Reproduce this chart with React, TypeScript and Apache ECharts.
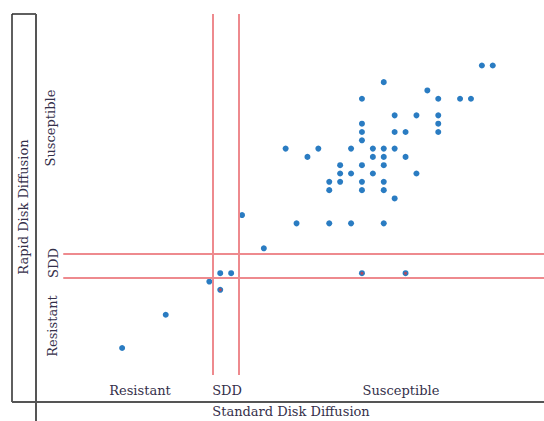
import React, { useEffect, useRef } from "react";
import * as echarts from "echarts";

// Interpretive category labels
const xCategoryLabels = ["Resistant", "SDD", "Susceptible"];
const yCategoryLabels = ["Resistant", "SDD", "Susceptible"];
const xTitle = "Standard Disk Diffusion";
const yTitle = "Rapid Disk Diffusion";

// Isolates: [standard zone (mm), rapid zone (mm)]
const isolates: [number, number][] = [
  [38, 40], [39, 40],
  [29, 38],
  [33, 37],
  [27, 36], [34, 36], [36, 36], [37, 36],
  [30, 34], [32, 34], [34, 34],
  [27, 33], [34, 33],
  [27, 32], [30, 32], [31, 32], [34, 32],
  [27, 31],
  [20, 30], [23, 30], [26, 30], [28, 30], [29, 30], [30, 30],
  [22, 29], [28, 29], [29, 29], [31, 29],
  [25, 28], [27, 28], [29, 28],
  [25, 27], [26, 27], [28, 27], [32, 27],
  [24, 26], [25, 26], [27, 26], [29, 26],
  [24, 25], [27, 25], [29, 25],
  [30, 24],
  [21, 21], [24, 21], [26, 21], [29, 21],
  [16, 22],
  [18, 18],
  [14, 15], [15, 15], [27, 15], [31, 15],
  [13, 14],
  [14, 13],
  [9, 10],
  [5, 6],
];

// Isolates with overlapping results (drawn with a dark centre)
const overlapped: [number, number][] = [
  [14, 13], [27, 15], [31, 15],
];

// Breakpoint lines
const standardBreaks = [13.3, 15.7];
const rapidBreaks = [14.5, 17.3];

const X_MIN = -2.9;
const X_MAX = 43.7;
const Y_MIN = -0.5;
const Y_MAX = 46.2;
const V_LINE_BOTTOM = 2.75;
const H_LINE_LEFT = -0.4;

const FONT = "DejaVu Serif";
const TEXT_COLOR = "#35304a";

export default function App() {
  const ref = useRef<HTMLDivElement>(null);

  useEffect(() => {
    if (!ref.current) return;
    const chart = echarts.init(ref.current, undefined, { renderer: "svg" });

    const markData: any[] = [];
    standardBreaks.forEach((x) => {
      markData.push([{ coord: [x, V_LINE_BOTTOM] }, { coord: [x, Y_MAX] }]);
    });
    rapidBreaks.forEach((y) => {
      markData.push([{ coord: [H_LINE_LEFT, y] }, { coord: [X_MAX, y] }]);
    });

    const textStyle = (text: string) => ({
      text,
      fill: TEXT_COLOR,
      font: `13px "${FONT}"`,
      textAlign: "center",
      textVerticalAlign: "middle",
    });

    chart.setOption({
      animation: false,
      grid: { left: 36, right: 0, top: 14, bottom: 19, containLabel: false },
      xAxis: {
        type: "value",
        min: X_MIN,
        max: X_MAX,
        show: false,
      },
      yAxis: {
        type: "value",
        min: Y_MIN,
        max: Y_MAX,
        show: false,
      },
      series: [
        {
          type: "scatter",
          data: [],
          silent: true,
          z: 1,
          markLine: {
            silent: true,
            symbol: "none",
            label: { show: false },
            lineStyle: { color: "#ee8a8e", width: 2, type: "solid", opacity: 1 },
            data: markData,
          },
        },
        {
          type: "scatter",
          data: isolates,
          symbol: "circle",
          symbolSize: 6,
          itemStyle: { color: "#2a7cc2", opacity: 1 },
          z: 3,
        },
        {
          type: "scatter",
          data: overlapped,
          symbol: "circle",
          symbolSize: 3,
          itemStyle: { color: "#b04a5e", opacity: 1 },
          z: 4,
        },
      ],
      graphic: [
        // frame
        { type: "line", shape: { x1: 12, y1: 14, x2: 12, y2: 402 }, style: { stroke: "#2a2a2a", lineWidth: 1.5 } },
        { type: "line", shape: { x1: 12, y1: 14, x2: 36, y2: 14 }, style: { stroke: "#2a2a2a", lineWidth: 1.5 } },
        { type: "line", shape: { x1: 36, y1: 14, x2: 36, y2: 421 }, style: { stroke: "#555", lineWidth: 2 } },
        { type: "line", shape: { x1: 12, y1: 402, x2: 544, y2: 402 }, style: { stroke: "#555", lineWidth: 2 } },
        // y titles
        { type: "text", x: 23, y: 207, rotation: Math.PI / 2, style: textStyle(yTitle) },
        { type: "text", x: 52, y: 326, rotation: Math.PI / 2, style: textStyle(yCategoryLabels[0]) },
        { type: "text", x: 53, y: 263, rotation: Math.PI / 2, style: textStyle(yCategoryLabels[1]) },
        { type: "text", x: 50, y: 128, rotation: Math.PI / 2, style: textStyle(yCategoryLabels[2]) },
        // x titles
        { type: "text", x: 140, y: 390, style: textStyle(xCategoryLabels[0]) },
        { type: "text", x: 227, y: 390, style: textStyle(xCategoryLabels[1]) },
        { type: "text", x: 401, y: 390, style: textStyle(xCategoryLabels[2]) },
        { type: "text", x: 291, y: 411, style: textStyle(xTitle) },
      ],
    });

    return () => chart.dispose();
  }, []);

  return (
    <div
      ref={ref}
      style={{ position: "fixed", left: 0, top: 0, width: 544, height: 421, background: "#fff" }}
    />
  );
}
